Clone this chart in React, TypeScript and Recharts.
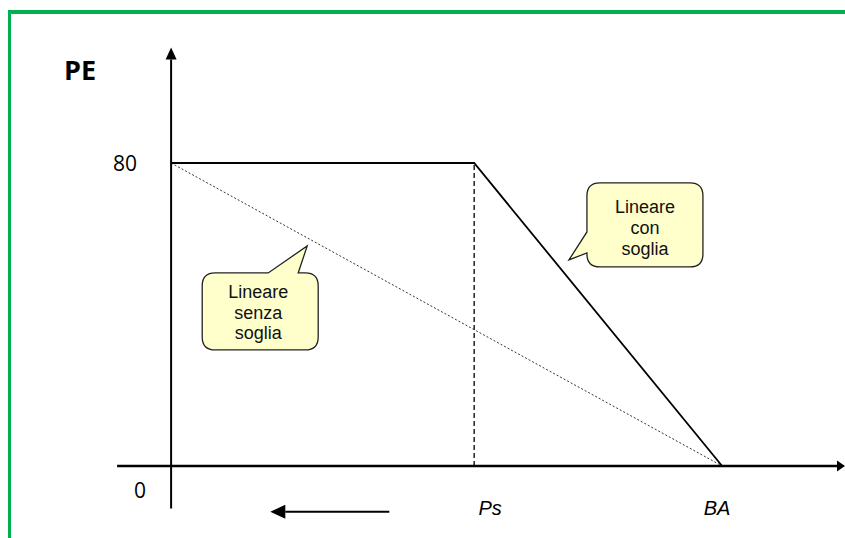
import React from 'react';
import { LineChart, Line, XAxis, YAxis, ReferenceLine, ReferenceDot } from 'recharts';

// ---- data ----
const sogliaX = [0, 55, 100];
const sogliaY = [80, 80, 0];
const senzaX = [0, 100];
const senzaY = [80, 0];
const psGuideX = [55, 55];
const psGuideY = [0, 80];
const xTicks = [55, 100];
const xTickLabels = ['Ps', 'BA'];
const yTicks = [0, 80];
const yTickLabels = ['0', '80'];
const yTitle = 'PE';
const calloutSoglia = ['Lineare', 'con', 'soglia'];
const calloutSenza = ['Lineare', 'senza', 'soglia'];

const toPoints = (xs: number[], ys: number[]) => xs.map((x, i) => ({ x, y: ys[i] }));
const sogliaData = toPoints(sogliaX, sogliaY);
const senzaData = toPoints(senzaX, senzaY);
const psGuideData = toPoints(psGuideX, psGuideY);

const W = 845;
const H = 538;
const ARIAL = '"Liberation Sans", Arial, sans-serif';
const CALIBRI = '"Open Sans", sans-serif';
const FILL = '#FFFFCC';

function ArrowShape(props: any) {
  const { x1, y1, x2, y2, headLen, headHalf, sw } = props;
  const dx = x2 - x1;
  const dy = y2 - y1;
  const len = Math.sqrt(dx * dx + dy * dy) || 1;
  const ux = dx / len;
  const uy = dy / len;
  const bx = x2 - ux * headLen;
  const by = y2 - uy * headLen;
  const px = -uy * headHalf;
  const py = ux * headHalf;
  return (
    <g>
      <line x1={x1} y1={y1} x2={bx} y2={by} stroke="#000" strokeWidth={sw} />
      <polygon points={`${x2},${y2} ${bx + px},${by + py} ${bx - px},${by - py}`} fill="#000" />
    </g>
  );
}

function bubbleLeft(cx: number, cy: number) {
  const x0 = cx + 18, x1 = cx + 134, y0 = cy - 77, y1 = cy + 7, r = 13;
  const upper = cy - 28, lower = cy - 7;
  return `M${x0 + r},${y0} H${x1 - r} Q${x1},${y0} ${x1},${y0 + r} V${y1 - r} Q${x1},${y1} ${x1 - r},${y1} H${x0 + r} Q${x0},${y1} ${x0},${y1 - r} V${lower} L${cx},${cy} L${x0},${upper} V${y0 + r} Q${x0},${y0} ${x0 + r},${y0} Z`;
}

function bubbleTop(cx: number, cy: number) {
  const x0 = cx - 105, x1 = cx + 11, y0 = cy + 27, y1 = cy + 104, r = 13;
  const left = cx - 39, right = cx - 9;
  return `M${x0 + r},${y0} H${left} L${cx},${cy} L${right},${y0} H${x1 - r} Q${x1},${y0} ${x1},${y0 + r} V${y1 - r} Q${x1},${y1} ${x1 - r},${y1} H${x0 + r} Q${x0},${y1} ${x0},${y1 - r} V${y0 + r} Q${x0},${y0} ${x0 + r},${y0} Z`;
}

function CalloutSoglia(props: any) {
  const { cx, cy } = props;
  const tx = cx + 76;
  const base = [-47, -26, -5];
  return (
    <g>
      <path d={bubbleLeft(cx, cy)} fill={FILL} stroke="#222" strokeWidth={1.3} />
      {calloutSoglia.map((t, i) => (
        <text key={i} x={tx} y={cy + base[i]} textAnchor="middle" fontFamily={ARIAL} fontSize={18} fill="#111">{t}</text>
      ))}
    </g>
  );
}

function CalloutSenza(props: any) {
  const { cx, cy } = props;
  const tx = cx - 49;
  const base = [52, 73, 93];
  return (
    <g>
      <path d={bubbleTop(cx, cy)} fill={FILL} stroke="#222" strokeWidth={1.3} />
      {calloutSenza.map((t, i) => (
        <text key={i} x={tx} y={cy + base[i]} textAnchor="middle" fontFamily={ARIAL} fontSize={18} fill="#111">{t}</text>
      ))}
    </g>
  );
}

const xLabelDx: Record<number, number> = { 55: 16, 100: -5 };

function XTick(props: any) {
  const { x, y, payload } = props;
  const idx = xTicks.indexOf(payload.value);
  return (
    <text x={x + (xLabelDx[payload.value] ?? 0)} y={y} textAnchor="middle" fontFamily={ARIAL} fontStyle="italic" fontSize={20} fill="#000">
      {xTickLabels[idx]}
    </text>
  );
}

function YTick(props: any) {
  const { x, y, payload } = props;
  const idx = yTicks.indexOf(payload.value);
  if (payload.value === 0) {
    return (
      <text x={x + 24} y={y + 32} textAnchor="middle" fontFamily={CALIBRI} fontSize={21} fill="#000">{yTickLabels[idx]}</text>
    );
  }
  return (
    <text x={x + 21} y={y + 8} textAnchor="end" fontFamily={CALIBRI} fontSize={21} fill="#000">{yTickLabels[idx]}</text>
  );
}

function YTitle(props: any) {
  const vb = props.viewBox || { x: 16, y: 47.5 };
  return (
    <text x={vb.x + 48} y={vb.y + 32} fontFamily={CALIBRI} fontWeight="bold" fontSize={27} fill="#000">{yTitle}</text>
  );
}

export default function App() {
  return (
    <div style={{ position: 'absolute', left: 0, top: 0, width: W, height: H, background: '#fff' }}>
      <div
        style={{
          position: 'absolute',
          left: 8,
          top: 10,
          width: W - 8,
          height: H - 10,
          borderLeft: '3px solid #00B050',
          borderTop: '4px solid #00B050',
          boxSizing: 'border-box',
        }}
      />
      <div style={{ position: 'absolute', left: 0, top: 0 }}>
        <LineChart width={W} height={H} margin={{ top: 47.5, right: 0, bottom: 2.8, left: 16 }}>
          <XAxis
            type="number"
            dataKey="x"
            domain={[-10, 122.3]}
            allowDataOverflow
            ticks={xTicks}
            interval={0}
            axisLine={false}
            tickLine={false}
            tickSize={0}
            tickMargin={0}
            height={20}
            tick={<XTick />}
          />
          <YAxis
            type="number"
            dataKey="y"
            domain={[-13, 110.5]}
            allowDataOverflow
            ticks={yTicks}
            interval={0}
            axisLine={false}
            tickLine={false}
            tickSize={0}
            tickMargin={0}
            width={100}
            tick={<YTick />}
            label={<YTitle />}
          />
          <ReferenceLine
            segment={[{ x: -9.8, y: 0 }, { x: 122.3, y: 0 }]}
            ifOverflow="visible"
            shape={(p: any) => <ArrowShape {...p} headLen={8} headHalf={5.5} sw={2.5} />}
          />
          <ReferenceLine
            segment={[{ x: 0, y: -11.2 }, { x: 0, y: 110.5 }]}
            ifOverflow="visible"
            shape={(p: any) => <ArrowShape {...p} headLen={12} headHalf={5.5} sw={2} />}
          />
          <ReferenceLine
            segment={[{ x: 39.6, y: -12.1 }, { x: 18, y: -12.1 }]}
            ifOverflow="visible"
            shape={(p: any) => <ArrowShape {...p} headLen={15} headHalf={7} sw={2} />}
          />
          <Line data={psGuideData} dataKey="y" stroke="#000" strokeWidth={1.3} strokeDasharray="5 3" dot={false} activeDot={false} isAnimationActive={false} />
          <Line data={senzaData} dataKey="y" stroke="#333" strokeWidth={1} strokeDasharray="2 2" dot={false} activeDot={false} isAnimationActive={false} />
          <Line data={sogliaData} dataKey="y" stroke="#000" strokeWidth={1.8} dot={false} activeDot={false} isAnimationActive={false} />
          <ReferenceDot x={72.2} y={54.4} ifOverflow="visible" shape={(p: any) => <CalloutSoglia {...p} />} />
          <ReferenceDot x={24.7} y={58.1} ifOverflow="visible" shape={(p: any) => <CalloutSenza {...p} />} />
        </LineChart>
      </div>
    </div>
  );
}
